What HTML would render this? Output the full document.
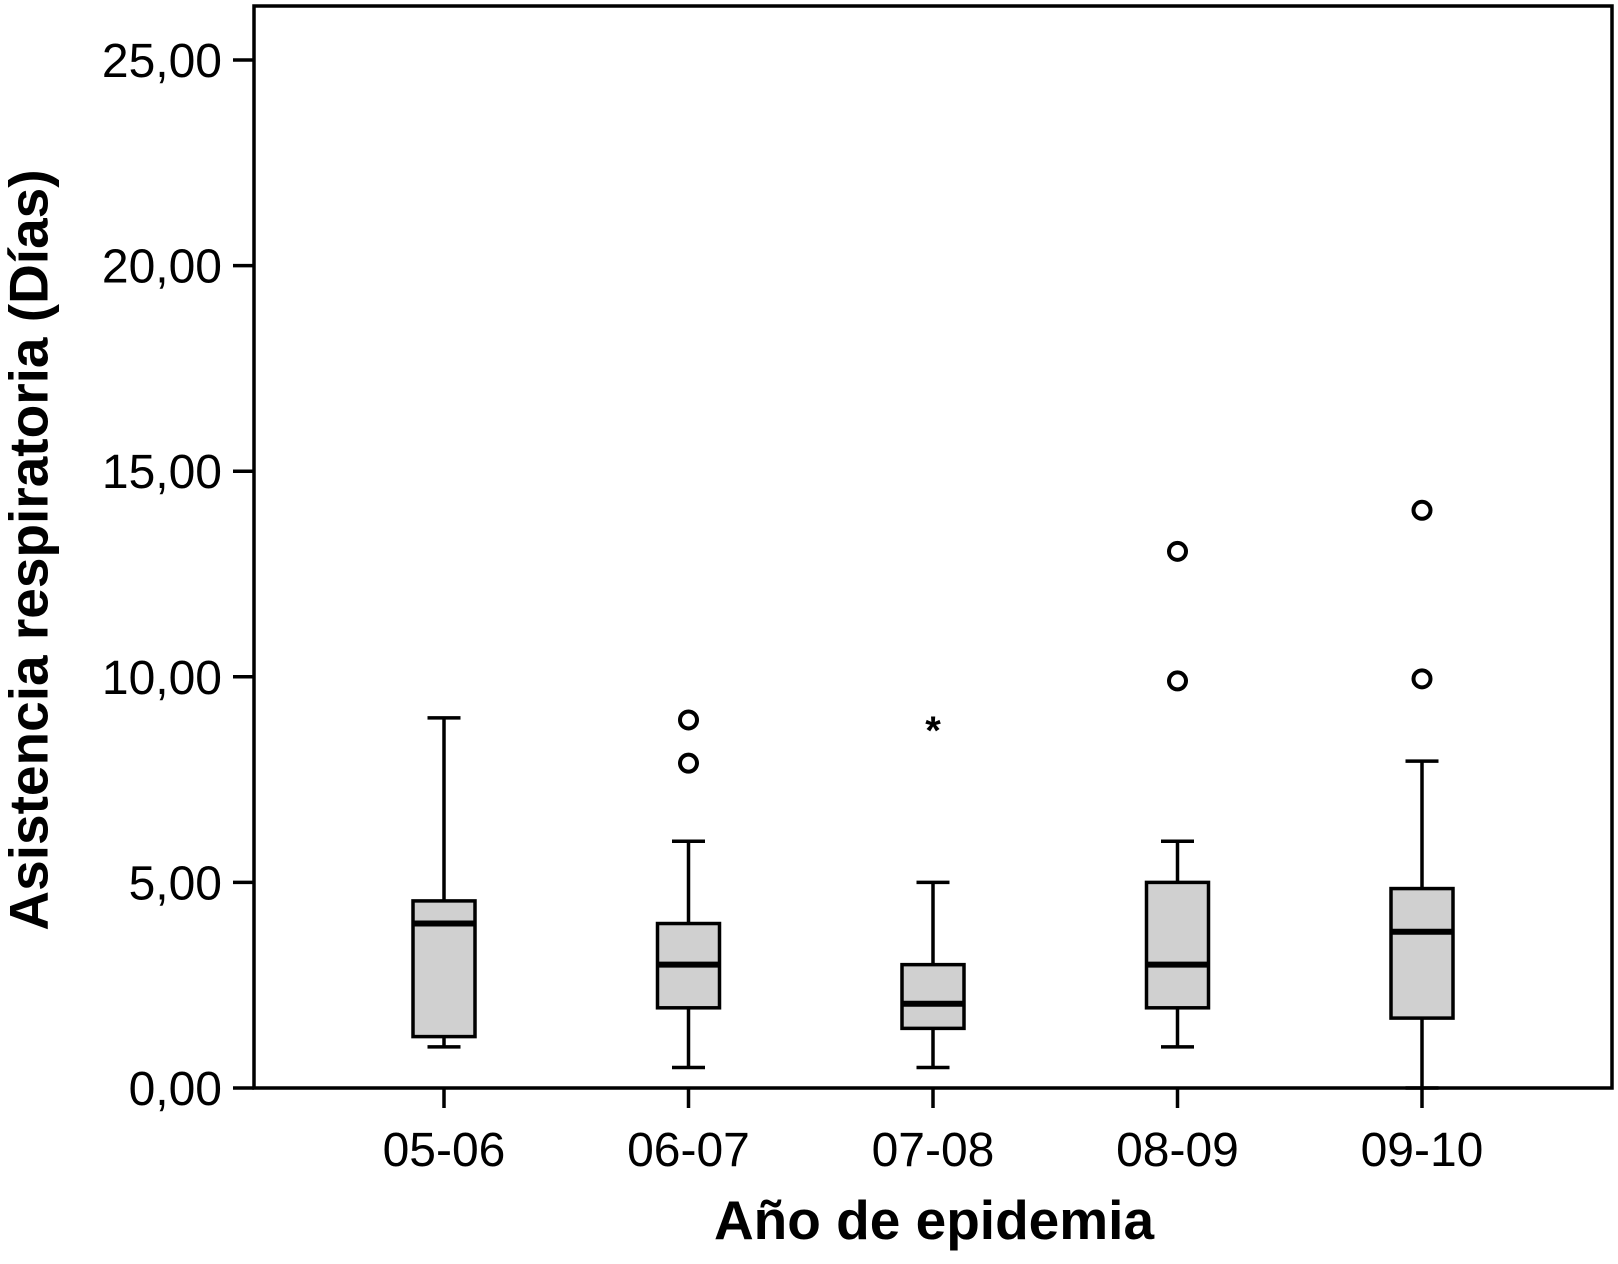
<!DOCTYPE html>
<html><head><meta charset="utf-8"><style>
html,body{margin:0;padding:0;background:#fff;}
svg{display:block;}
text{font-family:"Liberation Sans",Arial,sans-serif;fill:#000;}
</style></head><body>
<svg id="chart" width="1618" height="1264" viewBox="0 0 1618 1264">
<rect x="254" y="6" width="1358" height="1082" fill="none" stroke="#000" stroke-width="3.5"/>
<g id="yaxis"></g>
<g id="xaxis"></g>
<g id="boxes"></g>
<text x="33" y="550" transform="rotate(-90 33 550)" text-anchor="middle" dominant-baseline="middle" font-size="55" font-weight="bold">Asistencia respiratoria (Días)</text>
<text x="934" y="1239" text-anchor="middle" font-size="55" font-weight="bold">Año de epidemia</text>
</svg>
<script>
const categories = ["05-06","06-07","07-08","08-09","09-10"];
const whiskerLow = [1, 0.5, 0.5, 1, 0];
const q1 = [1.25, 1.95, 1.45, 1.95, 1.7];
const median = [4, 3, 2.05, 3, 3.8];
const q3 = [4.55, 4, 3, 5, 4.85];
const whiskerHigh = [9, 6, 5, 6, 7.95];
const outliers = [[], [8.95, 7.9], [], [13.05, 9.9], [14.05, 9.95]];
const extremes = [[], [], [8.85], [], []];
const yTicks = [0,5,10,15,20,25];
const yTickLabels = ["0,00","5,00","10,00","15,00","20,00","25,00"];

const NS="http://www.w3.org/2000/svg";
const y0=1088, yPer=41.12, x0=444, xStep=244.5;
const Y=v=>y0-v*yPer;
const X=i=>x0+i*xStep;
function mk(tag,attrs,parent){const e=document.createElementNS(NS,tag);for(const k in attrs)e.setAttribute(k,attrs[k]);parent.appendChild(e);return e;}
const ya=document.getElementById('yaxis'), xa=document.getElementById('xaxis'), bx=document.getElementById('boxes');
yTicks.forEach((t,i)=>{
  const l=mk('line',{x1:233,x2:254,y1:Y(t),y2:Y(t),stroke:'#000','stroke-width':3.5},ya);
  
  
  const tx=mk('text',{x:222,y:Y(t)+17,'text-anchor':'end','font-size':48},ya);
  tx.textContent=yTickLabels[i];
  
  
});
categories.forEach((c,i)=>{
  const x=X(i);
  const l=mk('line',{x1:x,x2:x,y1:1088,y2:1108,stroke:'#000','stroke-width':3.5},xa);
  
  
  const tx=mk('text',{x:x,y:1166,'text-anchor':'middle','font-size':48},xa);
  tx.textContent=c;
  
  
  const g=mk('g',{},bx);
  
  
  const w=62, cw=33;
  mk('line',{x1:x,x2:x,y1:Y(whiskerLow[i]),y2:Y(q1[i]),stroke:'#000','stroke-width':3.5},g);
  mk('line',{x1:x,x2:x,y1:Y(q3[i]),y2:Y(whiskerHigh[i]),stroke:'#000','stroke-width':3.5},g);
  mk('line',{x1:x-cw/2,x2:x+cw/2,y1:Y(whiskerLow[i]),y2:Y(whiskerLow[i]),stroke:'#000','stroke-width':3.5},g);
  mk('line',{x1:x-cw/2,x2:x+cw/2,y1:Y(whiskerHigh[i]),y2:Y(whiskerHigh[i]),stroke:'#000','stroke-width':3.5},g);
  mk('rect',{x:x-w/2,y:Y(q3[i]),width:w,height:Y(q1[i])-Y(q3[i]),fill:'#d0d0d0',stroke:'#000','stroke-width':3.5},g);
  mk('line',{x1:x-w/2,x2:x+w/2,y1:Y(median[i]),y2:Y(median[i]),stroke:'#000','stroke-width':6},g);
  outliers[i].forEach(v=>{
    const o=mk('circle',{cx:x,cy:Y(v),r:8.5,fill:'none',stroke:'#000','stroke-width':4},g);
    
    
  });
  extremes[i].forEach(v=>{
    const s=mk('text',{x:x,y:Y(v)+20,'text-anchor':'middle','font-size':40,'font-weight':'bold'},g);
    s.textContent='*';
    
    
  });
});
</script>
</body></html>
